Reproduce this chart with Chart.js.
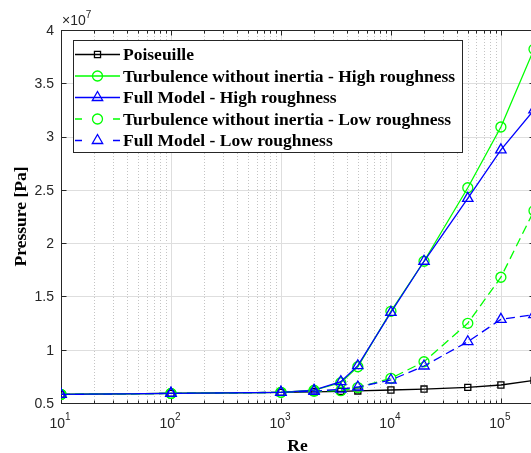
<!DOCTYPE html>
<html>
<head>
<meta charset="utf-8">
<script src="https://cdn.jsdelivr.net/npm/chart.js@4.4.0/dist/chart.umd.min.js"></script>
<style>
  html, body { margin: 0; padding: 0; overflow: hidden; background: #fff; }
  #myChart { display: block; width: 535px; height: 453px; }
</style>
</head>
<body>
<canvas id="myChart" width="535" height="453"></canvas>
<script>
// Reynolds numbers of the computed cases
const re = [10, 100, 1000, 2000, 3500, 5000, 10000, 20000, 50000, 100000, 200000];

// pressure [Pa]
const poiseuille   = [0.580e7, 0.590e7, 0.600e7, 0.605e7, 0.610e7, 0.613e7, 0.622e7, 0.631e7, 0.647e7, 0.669e7, 0.712e7];
const turbHigh     = [0.580e7, 0.590e7, 0.600e7, 0.620e7, 0.690e7, 0.840e7, 1.360e7, 1.830e7, 2.520e7, 3.090e7, 3.820e7];
const fullHigh     = [0.580e7, 0.590e7, 0.600e7, 0.620e7, 0.700e7, 0.850e7, 1.350e7, 1.830e7, 2.420e7, 2.875e7, 3.250e7];
const turbLow      = [0.580e7, 0.590e7, 0.600e7, 0.610e7, 0.616e7, 0.645e7, 0.732e7, 0.887e7, 1.248e7, 1.680e7, 2.305e7];
const fullLow      = [0.580e7, 0.590e7, 0.600e7, 0.610e7, 0.630e7, 0.650e7, 0.716e7, 0.847e7, 1.075e7, 1.285e7, 1.330e7];

const seriesNames = [
  'Poiseuille',
  'Turbulence without inertia - High roughness',
  'Full Model - High roughness',
  'Turbulence without inertia - Low roughness',
  'Full Model - Low roughness'
];

const yTicks = [0.5e7, 1e7, 1.5e7, 2e7, 2.5e7, 3e7, 3.5e7, 4e7];
const yTickLabels = ['0.5', '1', '1.5', '2', '2.5', '3', '3.5', '4'];
const xDecades = [10, 100, 1000, 10000, 100000];
const xTickExp = ['1', '2', '3', '4', '5'];

const DASH = [9, 5];
const AXIS = '#262626';
const TICKFONT = '"Liberation Sans", Arial, sans-serif';
const SERIF = '"Liberation Serif", "Times New Roman", serif';

function pts(ys) {
  return re.map(function (r, i) { return { x: r, y: ys[i] }; });
}

function series(label, ys, color, style, dashed, radius, order) {
  return {
    label: label,
    data: pts(ys),
    borderColor: color,
    backgroundColor: 'rgba(0,0,0,0)',
    borderWidth: 1.3,
    borderDash: dashed ? DASH : [],
    pointStyle: style,
    pointRadius: radius,
    pointBorderColor: color,
    pointBackgroundColor: 'rgba(0,0,0,0)',
    pointBorderWidth: 1.3,
    tension: 0,
    order: order
  };
}

// unfilled marker, same shapes as on the lines
function marker(ctx, style, x, y, r) {
  ctx.beginPath();
  if (style === 'circle') {
    ctx.arc(x, y, r, 0, Math.PI * 2);
  } else if (style === 'rect') {
    const s = r * Math.SQRT1_2;
    ctx.rect(x - s, y - s, 2 * s, 2 * s);
  } else {
    ctx.moveTo(x, y - r);
    ctx.lineTo(x + r * Math.sin(Math.PI * 2 / 3), y - r * Math.cos(Math.PI * 2 / 3));
    ctx.lineTo(x + r * Math.sin(Math.PI * 4 / 3), y - r * Math.cos(Math.PI * 4 / 3));
    ctx.closePath();
  }
  ctx.stroke();
}

const gridAndAxes = {
  id: 'gridAndAxes',
  beforeDatasetsDraw: function (chart) {
    const ctx = chart.ctx;
    const a = chart.chartArea;
    const xs = chart.scales.x, ys = chart.scales.y;
    ctx.save();
    ctx.lineWidth = 1;

    // minor vertical grid, dotted
    ctx.strokeStyle = '#c4c4c4';
    ctx.setLineDash([1, 2]);
    xDecades.forEach(function (d) {
      for (let k = 2; k <= 9; k++) {
        const v = d * k;
        if (v > xs.max) break;
        const px = Math.round(xs.getPixelForValue(v)) + 0.5;
        ctx.beginPath(); ctx.moveTo(px, a.top); ctx.lineTo(px, a.bottom); ctx.stroke();
      }
    });
    ctx.setLineDash([]);

    // major grid
    ctx.strokeStyle = '#dedede';
    xDecades.forEach(function (d) {
      const px = Math.round(xs.getPixelForValue(d)) + 0.5;
      ctx.beginPath(); ctx.moveTo(px, a.top); ctx.lineTo(px, a.bottom); ctx.stroke();
    });
    yTicks.forEach(function (v) {
      const py = Math.round(ys.getPixelForValue(v)) + 0.5;
      ctx.beginPath(); ctx.moveTo(a.left, py); ctx.lineTo(a.right, py); ctx.stroke();
    });

    // box
    const L = Math.round(a.left) + 0.5, R = Math.round(a.right) + 0.5;
    const T = Math.round(a.top) + 0.5, B = Math.round(a.bottom) + 0.5;
    ctx.strokeStyle = AXIS;
    ctx.strokeRect(L, T, R - L, B - T);

    // ticks, pointing inward
    ctx.beginPath();
    yTicks.forEach(function (v) {
      const py = Math.round(ys.getPixelForValue(v)) + 0.5;
      ctx.moveTo(L, py); ctx.lineTo(L + 5, py);
      ctx.moveTo(R, py); ctx.lineTo(R - 5, py);
    });
    xDecades.forEach(function (d) {
      const px = Math.round(xs.getPixelForValue(d)) + 0.5;
      ctx.moveTo(px, B); ctx.lineTo(px, B - 5);
      ctx.moveTo(px, T); ctx.lineTo(px, T + 5);
      for (let k = 2; k <= 9; k++) {
        const v = d * k;
        if (v > xs.max) break;
        const mx = Math.round(xs.getPixelForValue(v)) + 0.5;
        ctx.moveTo(mx, B); ctx.lineTo(mx, B - 3);
        ctx.moveTo(mx, T); ctx.lineTo(mx, T + 3);
      }
    });
    ctx.stroke();

    // tick labels
    ctx.fillStyle = '#262626';
    ctx.font = '14px ' + TICKFONT;
    ctx.textAlign = 'right';
    ctx.textBaseline = 'middle';
    yTicks.forEach(function (v, i) {
      ctx.fillText(yTickLabels[i], a.left - 7, ys.getPixelForValue(v) + 1);
    });

    ctx.textAlign = 'left';
    ctx.textBaseline = 'alphabetic';
    xDecades.forEach(function (d, i) {
      ctx.font = '14px ' + TICKFONT;
      const w1 = ctx.measureText('10').width;
      ctx.font = '10px ' + TICKFONT;
      const w2 = ctx.measureText(xTickExp[i]).width;
      const x0 = xs.getPixelForValue(d) - (w1 + w2) / 2 - 1;
      ctx.font = '14px ' + TICKFONT;
      ctx.fillText('10', x0, 428);
      ctx.font = '10px ' + TICKFONT;
      ctx.fillText(xTickExp[i], x0 + w1, 420);
    });

    // exponent note above the y axis
    ctx.font = '14px ' + TICKFONT;
    ctx.fillText('\u00d710', a.left + 1, 25);
    const wx = ctx.measureText('\u00d710').width;
    ctx.font = '10px ' + TICKFONT;
    ctx.fillText('7', a.left + 1 + wx, 18);

    // axis titles
    ctx.fillStyle = '#000';
    ctx.font = 'bold 17.5px ' + SERIF;
    ctx.textAlign = 'center';
    ctx.fillText('Re', (a.left + a.right) / 2, 451);
    ctx.translate(26, (a.top + a.bottom) / 2);
    ctx.rotate(-Math.PI / 2);
    ctx.fillText('Pressure [Pa]', 0, 0);
    ctx.restore();
  },
  afterDatasetsDraw: function (chart) {
    // legend box in the upper left corner of the axes
    const ctx = chart.ctx;
    const ds = chart.data.datasets;
    ctx.save();
    ctx.fillStyle = '#fff';
    ctx.fillRect(73, 40, 389, 112);
    ctx.strokeStyle = AXIS;
    ctx.lineWidth = 1;
    ctx.strokeRect(73.5, 40.5, 389, 112);

    const rows = [54.5, 76, 97.5, 119, 140.5];
    ds.forEach(function (d, i) {
      const y = rows[i];
      ctx.strokeStyle = d.borderColor;
      ctx.lineWidth = 1.3;
      ctx.beginPath();
      if (d.borderDash.length) {
        ctx.moveTo(75, y); ctx.lineTo(82, y);
        ctx.moveTo(113, y); ctx.lineTo(120, y);
      } else {
        ctx.moveTo(75, y); ctx.lineTo(120, y);
      }
      ctx.stroke();
      marker(ctx, d.pointStyle, 97.5, y, d.pointRadius);

      ctx.fillStyle = '#000';
      ctx.font = 'bold 17.5px ' + SERIF;
      ctx.textAlign = 'left';
      ctx.textBaseline = 'middle';
      ctx.fillText(d.label, 123, y + 1);
    });
    ctx.restore();
  }
};

var ctx = document.getElementById('myChart').getContext('2d');
var chart = new Chart(ctx, {
  type: 'line',
  data: {
    datasets: [
      series(seriesNames[0], poiseuille, '#000000', 'rect', false, 4.3, 5),
      series(seriesNames[1], turbHigh, '#00ff00', 'circle', false, 5, 4),
      series(seriesNames[2], fullHigh, '#0000ff', 'triangle', false, 6, 3),
      series(seriesNames[3], turbLow, '#00ff00', 'circle', true, 5, 2),
      series(seriesNames[4], fullLow, '#0000ff', 'triangle', true, 6, 1)
    ]
  },
  options: {
    responsive: false,
    animation: false,
    layout: { autoPadding: false, padding: { left: 61, top: 30, right: 1, bottom: 50 } },
    plugins: { legend: { display: false }, tooltip: { enabled: false } },
    scales: {
      x: { type: 'logarithmic', min: 10, max: 200000, display: false },
      y: { type: 'linear', min: 0.5e7, max: 4e7, display: false }
    }
  },
  plugins: [gridAndAxes]
});
</script>
</body>
</html>
